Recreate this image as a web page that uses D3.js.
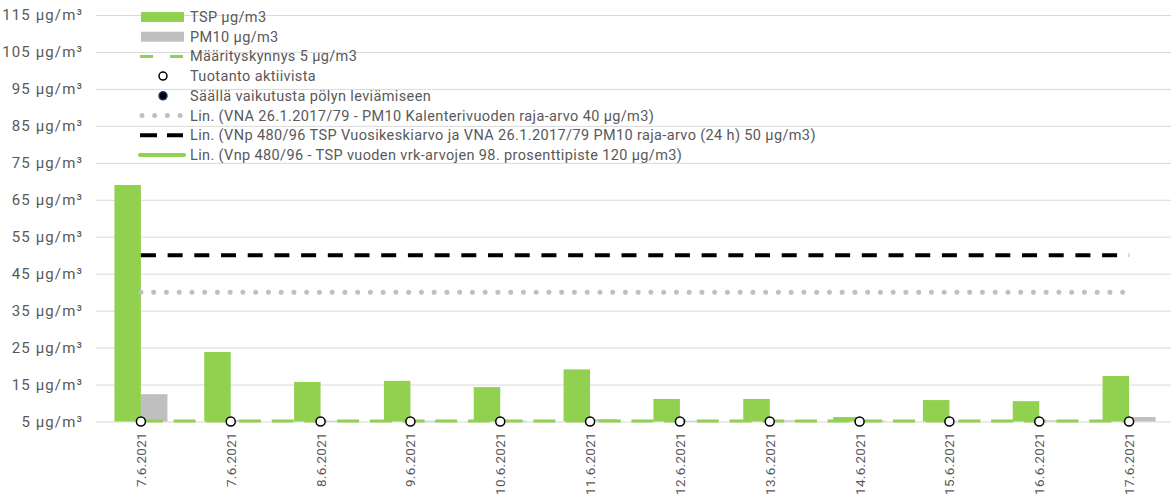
<!DOCTYPE html>
<meta charset="utf-8">
<style>
    body { margin: 0; background: white; }
    text { font-family: Roboto, "Open Sans", sans-serif; fill: #595959; }
    .grid line { stroke: #d9d9d9; stroke-width: 1; }
</style>
<body>
    <script src="https://d3js.org/d3.v7.min.js"></script>
    <script>
        var dates = ['7.6.2021', '7.6.2021', '8.6.2021', '9.6.2021', '10.6.2021', '11.6.2021',
                     '12.6.2021', '13.6.2021', '14.6.2021', '15.6.2021', '16.6.2021', '17.6.2021'];
        var tsp = [69.0, 23.8, 15.7, 16.0, 14.3, 19.1, 11.1, 11.1, 6.2, 10.8, 10.5, 17.3];
        var pm10 = [12.4, 5.4, 5.2, 5.2, 5.2, 5.6, 5.2, 5.3, 5.2, 5.2, 5.3, 6.2];
        var threshold = [5, 5, 5, 5, 5, 5, 5, 5, 5, 5, 5, 5];      // Määrityskynnys
        var production = [5, 5, 5, 5, 5, 5, 5, 5, 5, 5, 5, 5];     // Tuotanto aktiivista
        var limitPM10 = 40, limitTSP = 50, limitTSP98 = 120;
        var yTicks = [5, 15, 25, 35, 45, 55, 65, 75, 85, 95, 105, 115];
        var legendLabels = [
            'TSP µg/m3',
            'PM10 µg/m3',
            'Määrityskynnys 5 µg/m3',
            'Tuotanto aktiivista',
            'Säällä vaikutusta pölyn leviämiseen',
            'Lin. (VNA 26.1.2017/79 - PM10 Kalenterivuoden raja-arvo 40 µg/m3)',
            'Lin. (VNp 480/96 TSP Vuosikeskiarvo ja VNA 26.1.2017/79 PM10 raja-arvo (24 h) 50 µg/m3)',
            'Lin. (Vnp 480/96 - TSP vuoden vrk-arvojen 98. prosenttipiste 120 µg/m3)'
        ];

        var width = 1171, height = 496,
            green = '#92d050', grey = '#bfbfbf';

        var svg = d3.select('body').append('svg')
            .attr('width', width)
            .attr('height', height);

        var idx = d3.range(dates.length);

        var x = d3.scaleBand()
            .domain(idx)
            .range([96, 1174]);

        var xSub = d3.scaleBand()
            .domain(['tsp', 'pm10'])
            .range([0, x.bandwidth()])
            .paddingOuter(0.695);

        var y = d3.scaleLinear()
            .domain([5, 115])
            .range([421.5, 15]);

        var cx = function(i) { return x(i) + x.bandwidth() / 2; };

        // gridlines + y labels
        var yAxis = svg.append('g')
            .attr('class', 'grid')
            .attr('transform', 'translate(96,0)')
            .call(d3.axisLeft(y).tickValues(yTicks).tickSize(-(width - 96)).tickPadding(13)
                .tickFormat(function(d) { return d + ' µg/m³'; }));
        yAxis.select('.domain').remove();
        yAxis.selectAll('text')
            .attr('font-size', 15)
            .attr('letter-spacing', 1.1)
            .style('font-family', 'Roboto, sans-serif');

        // bars
        svg.append('g').selectAll('rect.tsp')
            .data(tsp).enter()
            .append('rect')
            .attr('x', function(d, i) { return x(i) + xSub('tsp'); })
            .attr('y', function(d) { return y(d); })
            .attr('width', xSub.bandwidth())
            .attr('height', function(d) { return y(5) - y(d); })
            .attr('fill', green);

        svg.append('g').selectAll('rect.pm10')
            .data(pm10).enter()
            .append('rect')
            .attr('x', function(d, i) { return x(i) + xSub('pm10'); })
            .attr('y', function(d) { return y(d); })
            .attr('width', xSub.bandwidth())
            .attr('height', function(d) { return y(5) - y(d); })
            .attr('fill', grey);

        var line = d3.line()
            .x(function(d, i) { return cx(i); })
            .y(function(d) { return y(d); });

        // threshold dashed line
        svg.append('path')
            .datum(threshold)
            .attr('d', line)
            .attr('fill', 'none')
            .attr('stroke', green)
            .attr('stroke-width', 3)
            .attr('stroke-dasharray', '22 10.7')
            .attr('transform', 'translate(0,-0.5)');

        // limit lines
        svg.append('path')
            .datum(idx.map(function() { return limitPM10; }))
            .attr('d', line)
            .attr('fill', 'none')
            .attr('stroke', grey)
            .attr('stroke-width', 5)
            .attr('stroke-linecap', 'round')
            .attr('stroke-dasharray', '0 12.75');

        svg.append('path')
            .datum(idx.map(function() { return limitTSP; }))
            .attr('d', line)
            .attr('fill', 'none')
            .attr('stroke', 'black')
            .attr('stroke-width', 4)
            .attr('stroke-dasharray', '15 11.7');

        svg.append('path')
            .datum(idx.map(function() { return limitTSP98; }))
            .attr('d', line)
            .attr('fill', 'none')
            .attr('stroke', green)
            .attr('stroke-width', 4);

        // production markers
        svg.append('g').selectAll('circle')
            .data(production).enter()
            .append('circle')
            .attr('cx', function(d, i) { return cx(i); })
            .attr('cy', function(d) { return y(d); })
            .attr('r', 4.5)
            .attr('fill', 'white')
            .attr('stroke', 'black')
            .attr('stroke-width', 1.5);

        // x labels
        svg.append('g').selectAll('text.xlab')
            .data(dates).enter()
            .append('text')
            .attr('class', 'xlab')
            .attr('transform', function(d, i) {
                return 'translate(' + (cx(i) + 5) + ',432) rotate(-90)';
            })
            .attr('text-anchor', 'end')
            .attr('font-size', 13.5)
            .attr('letter-spacing', 0.3)
            .text(function(d) { return d; });

        // legend
        var legend = svg.append('g');
        var rowY = function(i) { return 17 + i * 19.7; };
        var lg = legend.selectAll('g')
            .data(legendLabels).enter()
            .append('g')
            .attr('transform', function(d, i) { return 'translate(0,' + rowY(i) + ')'; });

        lg.append('text')
            .attr('x', 190)
            .attr('dy', '0.35em')
            .attr('font-size', 14.5)
            .attr('letter-spacing', 0.37)
            .text(function(d) { return d; });

        var sym = lg.nodes().map(function(n) { return d3.select(n); });
        sym[0].append('rect').attr('x', 141).attr('y', -5).attr('width', 43).attr('height', 10).attr('fill', green);
        sym[1].append('rect').attr('x', 141).attr('y', -5).attr('width', 43).attr('height', 10).attr('fill', grey);
        sym[2].append('line').attr('x1', 140).attr('x2', 185).attr('stroke', green)
            .attr('stroke-width', 3).attr('stroke-dasharray', '13 17');
        sym[3].append('circle').attr('cx', 163).attr('r', 4).attr('fill', 'white')
            .attr('stroke', 'black').attr('stroke-width', 1.5);
        sym[4].append('circle').attr('cx', 163).attr('r', 4).attr('fill', 'black')
            .attr('stroke', '#1f3864').attr('stroke-width', 1.5);
        sym[5].append('line').attr('x1', 142).attr('x2', 185).attr('stroke', grey)
            .attr('stroke-width', 5).attr('stroke-linecap', 'round').attr('stroke-dasharray', '0 12.7');
        sym[6].append('line').attr('x1', 140).attr('x2', 183).attr('stroke', 'black')
            .attr('stroke-width', 4).attr('stroke-dasharray', '17 10');
        sym[7].append('line').attr('x1', 140).attr('x2', 184).attr('stroke', green)
            .attr('stroke-width', 4).attr('stroke-linecap', 'round');
    </script>
</body>
